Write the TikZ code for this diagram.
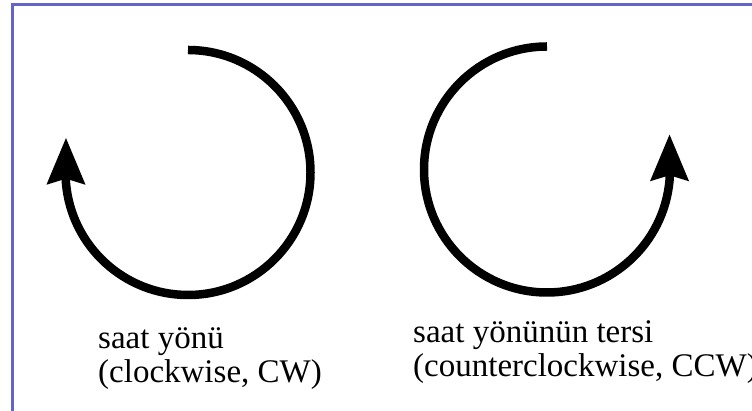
\documentclass[tikz,border=0pt]{standalone}
\usepackage{fontspec}
\setmainfont{Liberation Serif}
\usetikzlibrary{arrows.meta}
\definecolor{framecol}{RGB}{100,100,200}
\tikzset{
  turn/.style={line width=8.5pt, -{Stealth[length=46pt,width=37pt,inset=5pt]}},
  caption/.style={anchor=base west, inner sep=0pt, align=left,
    font=\fontsize{33}{34.5}\selectfont},
  frameline/.style={draw=framecol, line width=2.2pt}
}
\begin{document}
\begin{tikzpicture}[x=1pt,y=1pt]
\useasboundingbox (0,0) rectangle (752,411);
% frame (only top and left edges visible)
\draw[frameline] (12.5,0) -- (12.5,406.5) -- (752,406.5);
% clockwise arrow
\coordinate (cwstart) at (188,361);
\draw[turn] (cwstart) arc[start angle=90, end angle=-175, radius=122.5] -- ++(0,45.5);
% counterclockwise arrow
\coordinate (ccwstart) at (547,364.5);
\draw[turn] (ccwstart) arc[start angle=90, end angle=355, radius=123] -- ++(0,46);
% labels
\node[caption] (cwlabel) at (98,28) {saat yönü\\(clockwise, CW)};
\node[caption] (ccwlabel) at (413,34) {saat yönünün tersi\\(counterclockwise, CCW)};
\end{tikzpicture}
\end{document}
